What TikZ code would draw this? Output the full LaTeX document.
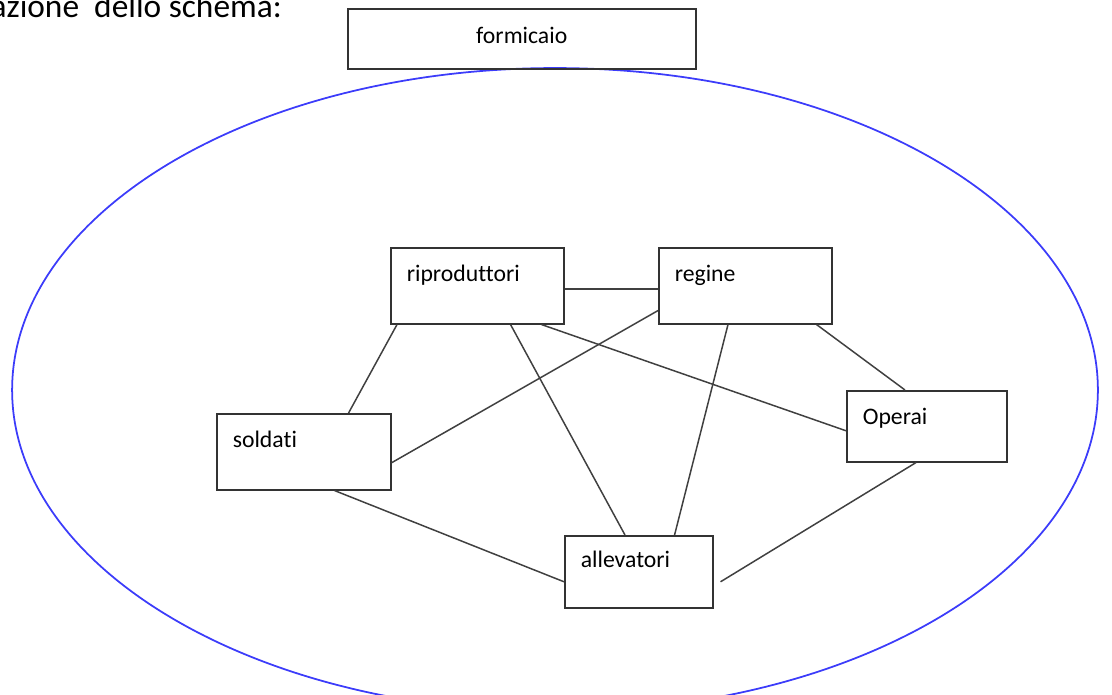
\documentclass[tikz,border=0pt]{standalone}
\usepackage{fontspec}
\setmainfont[Ligatures=NoCommon]{Carlito}
\usepackage{tikz}
\usetikzlibrary{positioning}

\definecolor{antblue}{RGB}{60,60,250}

\tikzset{
  caste/.style={draw=black!80, line width=0.9pt, anchor=north west, inner xsep=0.32cm,
    inner ysep=0pt, align=left, font=\fontsize{13.5}{16}\selectfont},
  link/.style={draw=black!75, line width=0.85pt}
}

\begin{document}
\begin{tikzpicture}[x=0.02cm, y=-0.02cm]
    \useasboundingbox (0,0) rectangle (1112,695);

    \node[anchor=base east, font=\fontsize{19}{22}\selectfont] (title) at (288,18) {azione\ \ dello schema:};

    \draw[antblue, line width=1pt] (555,390) ellipse [x radius=10.86cm, y radius=6.44cm];

    \node[caste, align=center, text width=6.32cm, text height=0.70cm, text depth=0.50cm] (nest) at (347,8) {formicaio};

    \node[caste, text width=2.82cm, text height=0.68cm, text depth=0.84cm] (ripro) at (390,247) {riproduttori};
    \node[caste, text width=2.82cm, text height=0.68cm, text depth=0.84cm] (regine) at (658,247) {regine};
    \node[caste, text width=2.84cm, text height=0.68cm, text depth=0.84cm] (soldati) at (216,413) {soldati};
    \node[caste, text width=2.56cm, text height=0.68cm, text depth=0.74cm] (operai) at (846,390) {Operai};
    \node[caste, text width=2.32cm, text height=0.64cm, text depth=0.80cm] (alleva) at (564,535) {allevatori};

    \coordinate (loose) at ([xshift=0.14cm, yshift=-0.2cm]alleva.east);

    % connections between the castes
    \draw[link] ([yshift=-0.06cm]ripro.east) -- ([yshift=-0.06cm]regine.west);
    \draw[link] ([xshift=0.14cm]ripro.south west) -- ([xshift=-0.86cm]soldati.north east);
    \draw[link] ([xshift=-1.08cm]ripro.south east) -- ([xshift=1.22cm]alleva.north west);
    \draw[link] ([xshift=-0.46cm]ripro.south east) -- ([yshift=-0.09cm]operai.west);
    \draw[link] ([yshift=0.28cm]regine.south west) -- ([yshift=-0.22cm]soldati.east);
    \draw[link] ([xshift=1.4cm]regine.south west) -- ([xshift=-0.78cm]alleva.north east);
    \draw[link] ([xshift=-0.32cm]regine.south east) -- ([xshift=1.18cm]operai.north west);
    \draw[link] ([xshift=-1.14cm]soldati.south east) -- ([yshift=-0.2cm]alleva.west);
    \draw[link] ([xshift=1.4cm]operai.south west) -- (loose);
\end{tikzpicture}
\end{document}
